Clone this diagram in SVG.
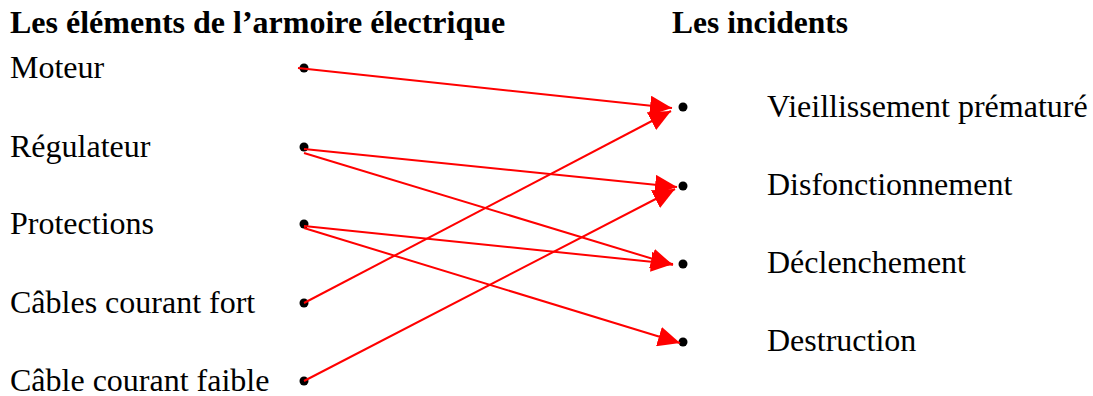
<svg xmlns="http://www.w3.org/2000/svg" width="1093" height="396" viewBox="0 0 1093 396">
<style>
text{font-family:"Liberation Serif","Times New Roman",serif;font-size:32px;fill:#000}
.h{font-weight:bold;font-size:31.5px}
.h2{font-size:32px}
.dot{fill:#000}
.c{stroke:#ff0000;stroke-width:2;fill:none;marker-end:url(#arr)}
</style>
<defs>
<marker id="arr" markerUnits="userSpaceOnUse" markerWidth="24" markerHeight="20" viewBox="0 0 24 20" refX="22" refY="10" orient="auto">
<path d="M0,0 L22,10 L0,20 Z" fill="#ff0000"/>
</marker>
</defs>
<rect width="1093" height="396" fill="#fff"/>
<text class="h h2" x="10" y="33">Les éléments de l’armoire électrique</text>
<text class="h" x="672" y="33">Les incidents</text>
<g id="n-moteur"><text x="10" y="78">Moteur</text><circle class="dot" cx="304" cy="68" r="4.5"/></g>
<g id="n-regulateur"><text x="10" y="157">Régulateur</text><circle class="dot" cx="304" cy="147" r="4.5"/></g>
<g id="n-protections"><text x="10" y="234">Protections</text><circle class="dot" cx="304" cy="224" r="4.5"/></g>
<g id="n-cfort"><text x="10" y="313">Câbles courant fort</text><circle class="dot" cx="304" cy="303" r="4.5"/></g>
<g id="n-cfaible"><text x="10" y="391">Câble courant faible</text><circle class="dot" cx="304" cy="381" r="4.5"/></g>
<g id="n-vieil"><circle class="dot" cx="683" cy="107" r="4.5"/><text x="767" y="117">Vieillissement prématuré</text></g>
<g id="n-disf"><circle class="dot" cx="683" cy="186" r="4.5"/><text x="767" y="195">Disfonctionnement</text></g>
<g id="n-decl"><circle class="dot" cx="683" cy="264" r="4.5"/><text x="767" y="273">Déclenchement</text></g>
<g id="n-destr"><circle class="dot" cx="683" cy="342" r="4.5"/><text x="767" y="351">Destruction</text></g>
<g id="connectors">
<line class="c" x1="298" y1="68" x2="672" y2="108"/>
<line class="c" x1="304" y1="149" x2="677" y2="187"/>
<line class="c" x1="304" y1="153" x2="673" y2="265"/>
<line class="c" x1="304" y1="226" x2="673" y2="264"/>
<line class="c" x1="304" y1="228" x2="680" y2="343"/>
<line class="c" x1="304" y1="303" x2="671" y2="111"/>
<line class="c" x1="304" y1="381" x2="675" y2="189"/>
</g>
</svg>
